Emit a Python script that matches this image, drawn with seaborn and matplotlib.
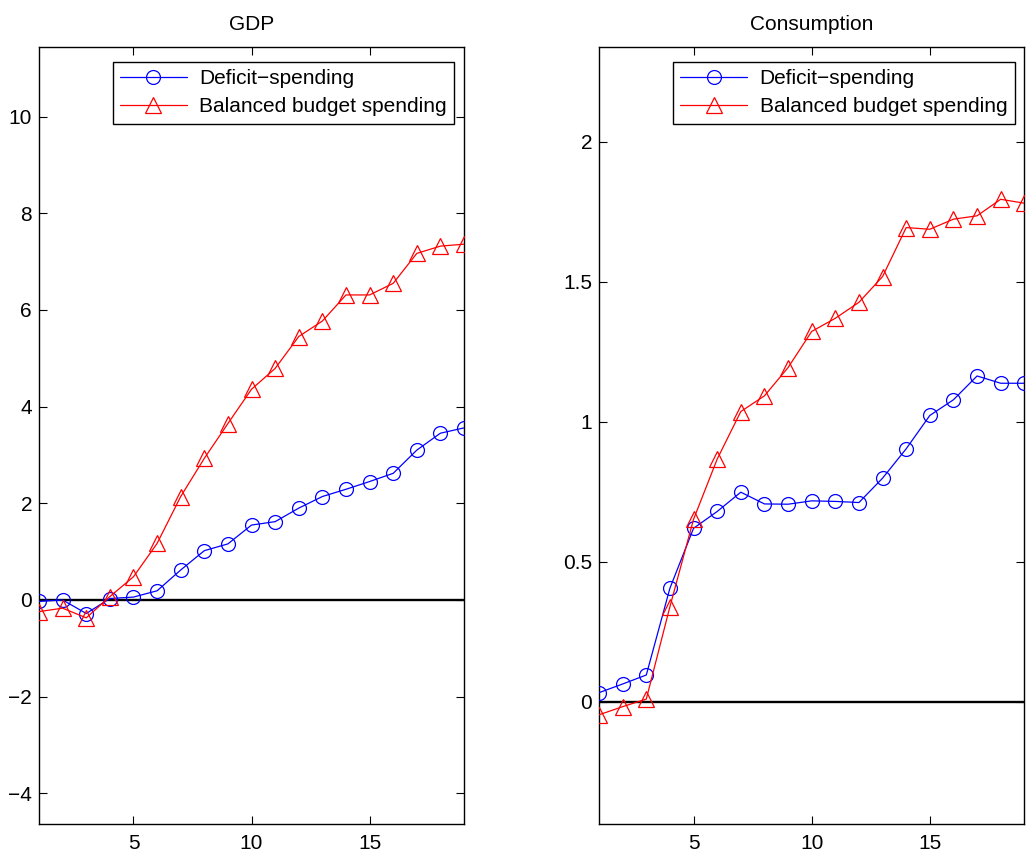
import matplotlib
matplotlib.use("Agg")
import matplotlib.pyplot as plt
import seaborn as sns
import numpy as np

periods = list(range(1, 20))

gdp_deficit = [-0.03, 0.0, -0.28, 0.03, 0.06, 0.19, 0.62, 1.02, 1.16, 1.55,
               1.62, 1.90, 2.14, 2.29, 2.45, 2.62, 3.10, 3.45, 3.56]
gdp_balanced = [-0.24, -0.17, -0.37, 0.07, 0.48, 1.17, 2.14, 2.93, 3.65, 4.36,
                4.79, 5.45, 5.77, 6.31, 6.31, 6.55, 7.17, 7.32, 7.36]

cons_deficit = [0.033, 0.064, 0.096, 0.406, 0.62, 0.68, 0.749, 0.707, 0.706, 0.718,
                0.716, 0.712, 0.799, 0.904, 1.023, 1.079, 1.164, 1.138, 1.138]
cons_balanced = [-0.046, -0.017, 0.01, 0.34, 0.652, 0.867, 1.037, 1.093, 1.194, 1.323,
                 1.370, 1.427, 1.519, 1.694, 1.688, 1.724, 1.736, 1.795, 1.781]

titles = ["GDP", "Consumption"]
series_labels = ["Deficit\u2212spending", "Balanced budget spending"]
gdp_yticks = [-4, -2, 0, 2, 4, 6, 8, 10]
cons_yticks = [0, 0.5, 1, 1.5, 2]
cons_yticklabels = ["0", "0.5", "1", "1.5", "2"]
xticks = [5, 10, 15]

sns.set_style("ticks")
plt.rcParams['font.family'] = ['Liberation Sans', 'DejaVu Sans']
plt.rcParams['font.size'] = 15
for k in ['text.color', 'axes.labelcolor', 'xtick.color', 'ytick.color', 'axes.edgecolor']:
    plt.rcParams[k] = 'black'

fig = plt.figure(figsize=(10.33, 8.57), dpi=100)
ax1 = fig.add_axes([0.0378, 0.0382, 0.4114, 0.9070])
ax2 = fig.add_axes([0.5799, 0.0382, 0.4117, 0.9070])

panels = [
    (ax1, gdp_deficit, gdp_balanced, (-4.64, 11.44), gdp_yticks, [str(t).replace('-', '\u2212') for t in gdp_yticks]),
    (ax2, cons_deficit, cons_balanced, (-0.437, 2.339), cons_yticks, cons_yticklabels),
]

for (ax, dser, bser, ylim, yt, ytl), title in zip(panels, titles):
    ax.axhline(0, color='black', lw=1.7, zorder=1)
    sns.lineplot(x=periods, y=dser, ax=ax, color='blue', lw=0.9, marker='o',
                 markersize=10, markerfacecolor='none', markeredgecolor='blue',
                 markeredgewidth=0.9, label=series_labels[0], zorder=3)
    sns.lineplot(x=periods, y=bser, ax=ax, color='red', lw=0.9, marker='^',
                 markersize=11, markerfacecolor='none', markeredgecolor='red',
                 markeredgewidth=0.9, label=series_labels[1], zorder=3)
    ax.set_xlim(1, 19)
    ax.set_ylim(*ylim)
    ax.set_xticks(xticks)
    ax.set_yticks(yt)
    ax.set_yticklabels(ytl)
    ax.set_title(title, fontsize=15, pad=12, color='black')
    ax.tick_params(direction='in', length=6, width=0.8, top=True, right=True,
                   labelsize=15, colors='black', pad=5)
    ax.tick_params(axis='x', pad=7)
    for sp in ax.spines.values():
        sp.set_visible(True)
        sp.set_color('black')
        sp.set_linewidth(1.0)
    leg = ax.legend(loc='upper right', fontsize=15, frameon=True, fancybox=False,
                    edgecolor='black', framealpha=1,
                    bbox_to_anchor=(0.977, 0.981), borderaxespad=0,
                    handlelength=3.2, borderpad=0.35, labelspacing=0.45,
                    handletextpad=0.6)
    leg.get_frame().set_linewidth(1.0)
    for t in leg.get_texts():
        t.set_color('black')

fig.savefig("out.png", dpi=100)
